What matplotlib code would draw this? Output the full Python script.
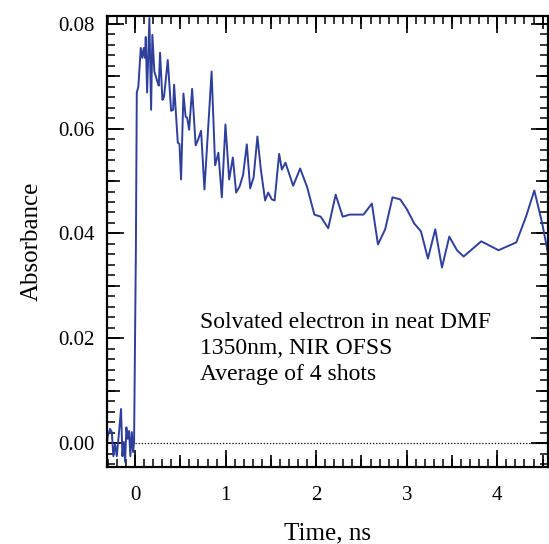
import numpy as np
import matplotlib
matplotlib.use("Agg")
import matplotlib.pyplot as plt
from matplotlib.ticker import MultipleLocator, FuncFormatter

# ---- data ----
time_ns = [
    -0.320, -0.302, -0.276, -0.257, -0.240, -0.221, -0.202, -0.177, -0.155, -0.140,
    -0.125, -0.110, -0.096, -0.081, -0.066, -0.052, -0.036, -0.022, -0.011, 0.009,
    0.019, 0.036, 0.063, 0.081, 0.096, 0.110, 0.118, 0.133, 0.158, 0.177,
    0.191, 0.213, 0.246, 0.262, 0.276, 0.302, 0.320, 0.361, 0.398, 0.420,
    0.431, 0.472, 0.490, 0.508, 0.534, 0.558, 0.575, 0.597, 0.630, 0.669,
    0.696, 0.729, 0.766, 0.845, 0.884, 0.920, 0.958, 0.998, 1.039, 1.080,
    1.116, 1.155, 1.193, 1.234, 1.271, 1.309, 1.351, 1.389, 1.436, 1.470,
    1.510, 1.541, 1.591, 1.621, 1.661, 1.746, 1.823, 1.901, 1.980, 2.050,
    2.133, 2.215, 2.293, 2.370, 2.450, 2.523, 2.615, 2.682, 2.762, 2.843,
    2.928, 3.002, 3.083, 3.157, 3.234, 3.315, 3.389, 3.470, 3.555, 3.628,
    3.823, 4.014, 4.210, 4.317, 4.409, 4.494, 4.567,
]
absorbance = [
    -0.0021, 0.0013, 0.0027, 0.0021, -0.0025, -0.0002, -0.0025, 0.0021, 0.0065, -0.0025,
    0.0002, -0.0036, 0.0030, 0.0008, 0.0023, -0.0025, 0.0021, -0.0017, 0.0002, 0.0370,
    0.0669, 0.0680, 0.0754, 0.0735, 0.0754, 0.0735, 0.0775, 0.0669, 0.0811, 0.0636,
    0.0779, 0.0709, 0.0690, 0.0682, 0.0745, 0.0655, 0.0661, 0.0731, 0.0634, 0.0636,
    0.0684, 0.0573, 0.0571, 0.0503, 0.0667, 0.0623, 0.0621, 0.0598, 0.0676, 0.0568,
    0.0579, 0.0596, 0.0484, 0.0709, 0.0530, 0.0554, 0.0469, 0.0608, 0.0503, 0.0545,
    0.0478, 0.0490, 0.0512, 0.0570, 0.0486, 0.0507, 0.0585, 0.0522, 0.0463, 0.0478,
    0.0465, 0.0463, 0.0552, 0.0522, 0.0535, 0.0491, 0.0524, 0.0488, 0.0436, 0.0432,
    0.0410, 0.0474, 0.0432, 0.0436, 0.0436, 0.0436, 0.0457, 0.0379, 0.0408, 0.0469,
    0.0465, 0.0446, 0.0419, 0.0404, 0.0352, 0.0408, 0.0335, 0.0394, 0.0368, 0.0356,
    0.0385, 0.0368, 0.0383, 0.0432, 0.0482, 0.0421, 0.0356,
]
annotation_lines = ["Solvated electron in neat DMF", "1350nm, NIR OFSS", "Average of 4 shots"]
x_label = "Time, ns"
y_label = "Absorbance"
x_limits = (-0.31, 4.56)
y_limits = (-0.00457, 0.0815)

# ---- style ----
plt.rcParams['font.family'] = ['Liberation Serif', 'DejaVu Serif']
line_color = '#2f3f9c'

fig = plt.figure(figsize=(5.49, 5.44), dpi=100)
ax = fig.add_axes([107/549, 1 - 467/544, (548 - 107)/549, (467 - 16)/544])

ax.plot(time_ns, absorbance, color=line_color, lw=1.4, clip_on=True)
ax.axhline(0, xmin=(0 - x_limits[0]) / (x_limits[1] - x_limits[0]), xmax=1,
           color='black', lw=0.9, ls=(0, (1, 1.5)))

ax.set_xlim(*x_limits)
ax.set_ylim(*y_limits)

ax.xaxis.set_major_locator(MultipleLocator(1))
ax.xaxis.set_minor_locator(MultipleLocator(0.1))
ax.yaxis.set_major_locator(MultipleLocator(0.02))
ax.yaxis.set_minor_locator(MultipleLocator(0.002))
ax.xaxis.set_major_formatter(FuncFormatter(lambda v, p: f"{v:.0f}"))
ax.yaxis.set_major_formatter(FuncFormatter(lambda v, p: f"{v:.2f}"))

ax.tick_params(which='major', direction='in', length=12, width=1.2,
               top=True, right=True, labelsize=15)
ax.tick_params(axis='x', which='major', pad=14)
ax.tick_params(axis='y', which='major', pad=9)
ax.tick_params(which='minor', direction='in', length=5.5, width=1.1,
               top=True, right=True)
for s in ax.spines.values():
    s.set_linewidth(1.6)

# medium-length ticks at half units
for loc in ('bottom', 'top'):
    sec = ax.secondary_xaxis(loc)
    sec.xaxis.set_major_locator(MultipleLocator(0.5))
    sec.tick_params(direction='in', length=9, width=1.2, labelbottom=False, labeltop=False)
    sec.spines[loc].set_visible(False)
for loc in ('left', 'right'):
    sec = ax.secondary_yaxis(loc)
    sec.yaxis.set_major_locator(MultipleLocator(0.01))
    sec.tick_params(direction='in', length=9, width=1.2, labelleft=False, labelright=False)
    sec.spines[loc].set_visible(False)

ax.set_xlabel(x_label, fontsize=18)
ax.set_ylabel(y_label, fontsize=18)
ax.xaxis.set_label_coords(0.5, -0.124)
ax.yaxis.set_label_coords(-0.145, 0.5)

ax.text(0.212, 0.343, "\n".join(annotation_lines), transform=ax.transAxes,
        fontsize=17, va='top', ha='left', linespacing=1.3)

fig.savefig("out.png", dpi=100)
